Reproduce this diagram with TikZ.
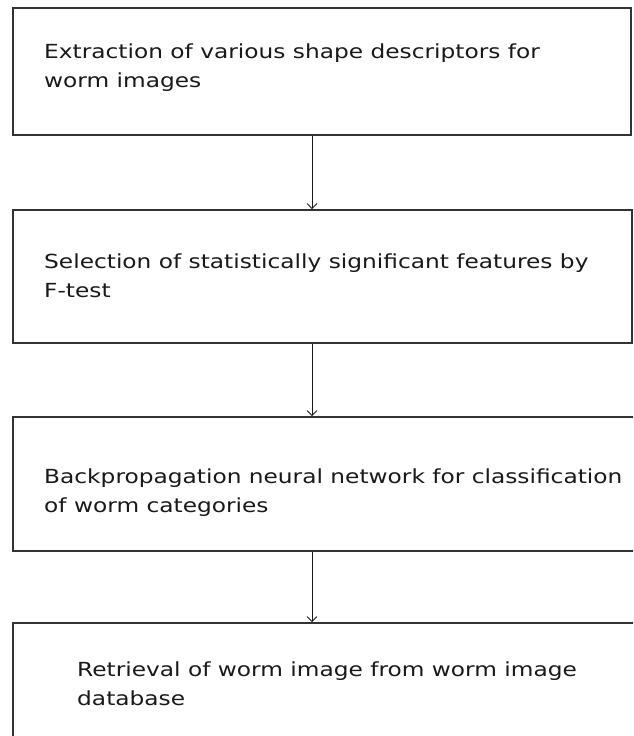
\documentclass[tikz,border=0pt]{standalone}
\usepackage{fontspec}
\setmainfont{DejaVu Sans}[FakeStretch=1.2]
\usetikzlibrary{arrows.meta}
\begin{document}
\begin{tikzpicture}[x=1pt,y=-1pt,
  stepbox/.style={draw=black!80, line width=1.6pt, rectangle, inner sep=0pt, fill=none},
  steptext/.style={anchor=base west, align=left, inner sep=0pt, text=black!90,
    font=\fontsize{19.4}{28.8}\selectfont},
  flow/.style={line width=0.9pt, draw=black!90, -{Straight Barb[length=5pt,width=10pt]}}]
\useasboundingbox (0,0) rectangle (633,736);
\fill[white] (0,0) rectangle (633,736);
\clip (0,0) rectangle (633,736);
\node[stepbox, minimum width=618pt, minimum height=127pt] (b1) at (322,71.5) {};
\node[stepbox, minimum width=619pt, minimum height=133pt] (b2) at (322.5,276.5) {};
\node[stepbox, minimum width=627pt, minimum height=134pt] (b3) at (326.5,484) {};
\node[stepbox, minimum width=627pt, minimum height=137pt] (b4) at (326.5,691.5) {};
\node[steptext] (t1) at (44,87.5) {Extraction of various shape descriptors for\\worm images};
\node[steptext] (t2) at (44,297) {Selection of statistically significant features by\\F-test};
\node[steptext] (t3) at (44,512) {Backpropagation neural network for classification\\of worm categories};
\node[steptext] (t4) at (77,705) {Retrieval of worm image from worm image\\database};
\coordinate (ax) at (312,0);
\draw[flow] (b1.south -| ax) -- (b2.north -| ax);
\draw[flow] (b2.south -| ax) -- (b3.north -| ax);
\draw[flow] (b3.south -| ax) -- (b4.north -| ax);
\end{tikzpicture}
\end{document}
